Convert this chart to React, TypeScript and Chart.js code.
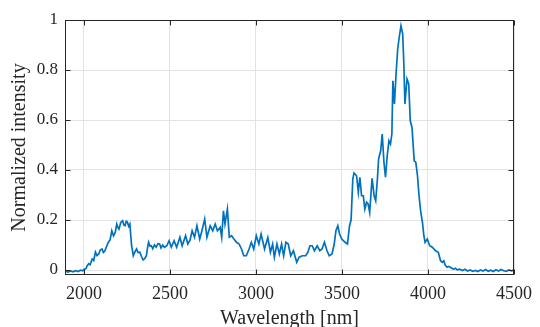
import React, { useEffect, useRef } from "react";
import { Chart, registerables } from "chart.js";

Chart.register(...registerables);

const wavelengths = [
  1893, 1908, 1922, 1937, 1951, 1966, 1980, 1993, 2005, 2012, 2019, 2028, 2036, 2048, 2057, 2067, 2076, 2086, 2095, 2105,
  2113, 2122, 2132, 2143, 2152, 2162, 2172, 2182, 2191, 2198, 2204, 2214, 2225, 2232, 2239, 2246, 2252, 2260, 2267, 2272,
  2277, 2287, 2296, 2306, 2315, 2325, 2334, 2344, 2353, 2363, 2370, 2376, 2384, 2392, 2400, 2410, 2420, 2430, 2440, 2448,
  2458, 2468, 2482, 2495, 2508, 2524, 2539, 2558, 2571, 2591, 2604, 2617, 2629, 2643, 2657, 2673, 2686, 2702, 2715, 2734,
  2749, 2763, 2776, 2792, 2801, 2811, 2820, 2834, 2845, 2858, 2872, 2887, 2902, 2916, 2929, 2944, 2960, 2973, 2987, 3002,
  3017, 3030, 3050, 3069, 3084, 3097, 3107, 3122, 3136, 3149, 3161, 3174, 3188, 3202, 3218, 3237, 3251, 3270, 3289, 3302,
  3314, 3327, 3340, 3356, 3371, 3384, 3398, 3413, 3426, 3442, 3455, 3465, 3476, 3486, 3499, 3518, 3532, 3544, 3553, 3563,
  3570, 3585, 3595, 3604, 3614, 3624, 3633, 3643, 3652, 3661, 3675, 3687, 3696, 3706, 3713, 3725, 3734, 3744, 3753, 3763,
  3773, 3782, 3790, 3796, 3805, 3815, 3824, 3834, 3843, 3853, 3859, 3866, 3878, 3888, 3897, 3907, 3920, 3929, 3939, 3948,
  3958, 3968, 3976, 3983, 3996, 4010, 4025, 4044, 4060, 4073, 4083, 4092, 4100, 4111, 4120, 4130, 4140, 4150, 4160, 4169,
  4185, 4200, 4215, 4230, 4245, 4260, 4275, 4290, 4305, 4320, 4335, 4350, 4365, 4380, 4395, 4410, 4425, 4440, 4455, 4470,
  4485, 4500,
];

const intensity = [
  -0.005, -0.008, -0.004, -0.007, -0.003, -0.006, -0.001, -0.003, 0.004, 0.006, 0.017, 0.025, 0.021, 0.044, 0.038, 0.072, 0.058, 0.064, 0.08, 0.084,
  0.07, 0.077, 0.095, 0.112, 0.12, 0.157, 0.137, 0.15, 0.184, 0.17, 0.164, 0.19, 0.197, 0.18, 0.177, 0.195, 0.193, 0.175, 0.184, 0.14,
  0.097, 0.057, 0.072, 0.084, 0.07, 0.071, 0.055, 0.04, 0.045, 0.057, 0.09, 0.111, 0.095, 0.097, 0.085, 0.1, 0.091, 0.105, 0.104, 0.088,
  0.1, 0.091, 0.097, 0.117, 0.091, 0.117, 0.091, 0.131, 0.097, 0.137, 0.104, 0.12, 0.157, 0.131, 0.177, 0.124, 0.157, 0.204, 0.131, 0.177,
  0.157, 0.184, 0.157, 0.171, 0.131, 0.237, 0.184, 0.244, 0.131, 0.137, 0.124, 0.111, 0.104, 0.084, 0.057, 0.057, 0.084, 0.111, 0.084, 0.137,
  0.104, 0.144, 0.084, 0.13, 0.071, 0.104, 0.051, 0.104, 0.064, 0.104, 0.057, 0.111, 0.104, 0.057, 0.077, 0.031, 0.051, 0.057, 0.057, 0.071,
  0.097, 0.097, 0.077, 0.097, 0.077, 0.084, 0.111, 0.077, 0.057, 0.064, 0.104, 0.157, 0.177, 0.144, 0.124, 0.111, 0.104, 0.177, 0.2, 0.364,
  0.388, 0.377, 0.311, 0.371, 0.297, 0.297, 0.244, 0.271, 0.264, 0.231, 0.367, 0.297, 0.277, 0.364, 0.444, 0.477, 0.544, 0.431, 0.371, 0.457,
  0.517, 0.504, 0.544, 0.757, 0.664, 0.791, 0.884, 0.937, 0.977, 0.944, 0.837, 0.664, 0.764, 0.744, 0.597, 0.571, 0.437, 0.431, 0.377, 0.297,
  0.231, 0.19, 0.137, 0.111, 0.124, 0.097, 0.091, 0.077, 0.071, 0.037, 0.031, 0.037, 0.02, 0.011, 0.014, 0.011, 0.006, 0.004, 0.007, 0.001,
  0.003, -0.002, 0.003, -0.004, 0.0, -0.005, -0.002, -0.006, 0.0, -0.004, 0.002, -0.005, -0.001, -0.006, 0.001, -0.004, 0.002, -0.003, -0.005, 0.0,
  -0.003, 0.0,
];

const xTicks = [2000, 2500, 3000, 3500, 4000, 4500];
const yTicks = [0, 0.2, 0.4, 0.6, 0.8, 1];
const xRange = [1890, 4500];
const yRange = [-0.02, 1];
const xTitle = "Wavelength [nm]";
const yTitle = "Normalized intensity";

const FONT = "'Liberation Serif', 'Times New Roman', serif";
const AXIS_COLOR = "#262626";

const boxPlugin = {
  id: "matlabBox",
  afterDatasetsDraw(chart: any) {
    const { ctx, chartArea: a, scales } = chart;
    const L = Math.round(a.left) + 0.5;
    const R = Math.round(a.right) - 0.5;
    const T = Math.round(a.top) + 0.5;
    const B = Math.round(a.bottom) - 0.5;
    ctx.save();
    ctx.strokeStyle = AXIS_COLOR;
    ctx.lineWidth = 1;
    ctx.strokeRect(L, T, R - L, B - T);
    const len = 5;
    ctx.beginPath();
    for (const v of xTicks) {
      const px = Math.round(scales.x.getPixelForValue(v)) + 0.5;
      ctx.moveTo(px, B);
      ctx.lineTo(px, B - len);
      ctx.moveTo(px, T);
      ctx.lineTo(px, T + len);
    }
    for (const v of yTicks) {
      const py = Math.round(scales.y.getPixelForValue(v)) + 0.5;
      ctx.moveTo(L, py);
      ctx.lineTo(L + len, py);
      ctx.moveTo(R, py);
      ctx.lineTo(R - len, py);
    }
    ctx.stroke();
    ctx.restore();
  },
};

export default function App() {
  const ref = useRef<HTMLCanvasElement>(null);

  useEffect(() => {
    if (!ref.current) return;
    const points = wavelengths.map((x, i) => ({ x, y: intensity[i] }));
    const chart = new Chart(ref.current, {
      type: "line",
      data: {
        datasets: [
          {
            data: points,
            borderColor: "#0072BD",
            borderWidth: 1.7,
            pointRadius: 0,
            tension: 0,
            fill: false,
          },
        ],
      },
      options: {
        responsive: false,
        animation: false,
        layout: { padding: { top: 20, right: 21, left: 0, bottom: 0 } },
        plugins: { legend: { display: false }, tooltip: { enabled: false } },
        scales: {
          x: {
            type: "linear",
            min: xRange[0],
            max: xRange[1],
            afterBuildTicks: (s: any) => {
              s.ticks = xTicks.map((v) => ({ value: v }));
            },
            afterFit: (s: any) => {
              s.height = 52;
            },
            grid: { color: "#e3e3e3", drawTicks: false },
            border: { display: false },
            ticks: {
              padding: 8,
              color: AXIS_COLOR,
              font: { family: FONT, size: 18 },
              maxRotation: 0,
              callback: (v: any) => String(v),
            },
            title: {
              display: true,
              text: xTitle,
              color: AXIS_COLOR,
              font: { family: FONT, size: 20 },
              padding: { top: 0, bottom: -4 },
            },
          },
          y: {
            type: "linear",
            min: yRange[0],
            max: yRange[1],
            afterBuildTicks: (s: any) => {
              s.ticks = yTicks.map((v) => ({ value: v }));
            },
            afterFit: (s: any) => {
              s.width = 65;
            },
            grid: { color: "#e3e3e3", drawTicks: false },
            border: { display: false },
            ticks: {
              padding: 7,
              color: AXIS_COLOR,
              font: { family: FONT, size: 17 },
              callback: (v: any) => String(v),
            },
            title: {
              display: true,
              text: yTitle,
              color: AXIS_COLOR,
              font: { family: FONT, size: 20 },
              padding: { top: 8, bottom: 0 },
            },
          },
        },
      },
      plugins: [boxPlugin],
    });
    return () => chart.destroy();
  }, []);

  return (
    <div style={{ position: "fixed", left: 0, top: 0, width: 540, height: 327, background: "#fff" }}>
      <canvas ref={ref} width={540} height={327} style={{ display: "block" }} />
    </div>
  );
}
